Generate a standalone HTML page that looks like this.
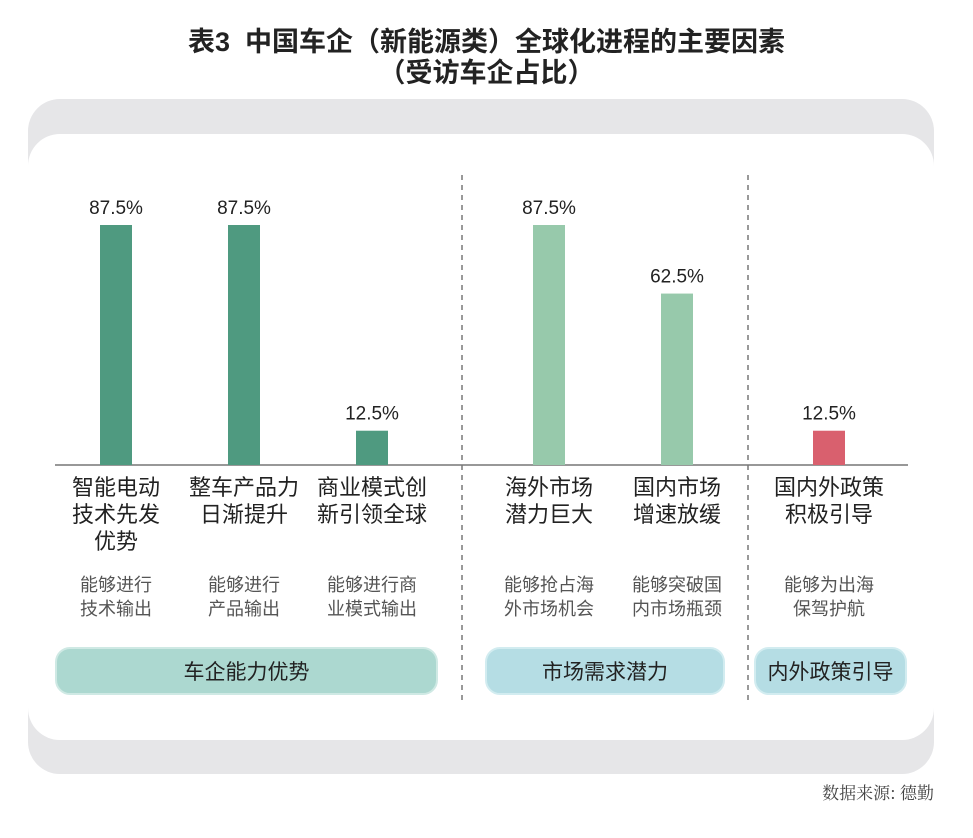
<!DOCTYPE html>
<html><head><meta charset="utf-8">
<style>
body{margin:0;width:973px;height:838px;background:#fff;font-family:"Liberation Sans","Noto Sans CJK SC",sans-serif;overflow:hidden;position:relative}
.t{position:absolute;white-space:nowrap}
</style></head>
<body>
<div class="t" style="left:0;width:973px;text-align:center;top:27px;font-size:27px;font-weight:bold;line-height:31px;color:#222">表3&nbsp; 中国车企（新能源类）全球化进程的主要因素<br>（受访车企占比）</div>
<svg id="c" width="973" height="838" style="position:absolute;left:0;top:0"></svg>
<script>
const categories=["智能电动|技术先发|优势","整车产品力|日渐提升","商业模式创|新引领全球","海外市场|潜力巨大","国内市场|增速放缓","国内外政策|积极引导"];
const values=[87.5,87.5,12.5,87.5,62.5,12.5];
const valueLabels=["87.5%","87.5%","12.5%","87.5%","62.5%","12.5%"];
const descriptions=["能够进行|技术输出","能够进行|产品输出","能够进行商|业模式输出","能够抢占海|外市场机会","能够突破国|内市场瓶颈","能够为出海|保驾护航"];
const groups=["车企能力优势","市场需求潜力","内外政策引导"];
const NS="http://www.w3.org/2000/svg";
const svg=document.getElementById('c');
function mk(t,a,p){const e=document.createElementNS(NS,t);for(const k in a)e.setAttribute(k,a[k]);(p||svg).appendChild(e);return e;}
const base=465, k=240/87.5;
const y=v=>base-v*k;
const xs=[116,244,372,549,677,829];
const colors=["#4f9a80","#4f9a80","#4f9a80","#97c9ab","#97c9ab","#d9606e"];
let e;
e=mk('rect',{x:28,y:99,width:906,height:675,rx:32,fill:'#e6e6e8'});


e=mk('rect',{x:28,y:134,width:906,height:606,rx:32,fill:'#fff'});


[462,748].forEach(x=>{e=mk('line',{x1:x,x2:x,y1:175,y2:700,stroke:'#333','stroke-width':1,'stroke-dasharray':'5,5'});

});
e=mk('line',{x1:55,x2:908,y1:base,y2:base,stroke:'#777','stroke-width':1.5});


values.forEach((v,i)=>{
  const b=mk('rect',{x:xs[i]-16,y:y(v),width:32,height:base-y(v),fill:colors[i]});
  
  
  const l=mk('text',{x:xs[i],y:y(v)-11,'text-anchor':'middle','font-size':19,fill:'#222'});
  l.textContent=valueLabels[i];
  
  
  categories[i].split('|').forEach((s,j)=>{
    const t=mk('text',{x:xs[i],y:495+j*27,'text-anchor':'middle','font-size':22,fill:'#222'});
    t.textContent=s;
    
    
  });
  descriptions[i].split('|').forEach((s,j)=>{
    const t=mk('text',{x:xs[i],y:591+j*24,'text-anchor':'middle','font-size':18,fill:'#555'});
    t.textContent=s;
    
    
  });
});
const gbox=[[56,381,'#acd8d0','#cfe9e4'],[486,238,'#b5dde4','#d2ecf0'],[755,151,'#b5dde4','#d2ecf0']];
groups.forEach((g,i)=>{
  const [x,w,f,s]=gbox[i];
  const r=mk('rect',{x:x,y:648,width:w,height:46,rx:14,fill:f,stroke:s,'stroke-width':2});
  
  
  const t=mk('text',{x:x+w/2,y:679,'text-anchor':'middle','font-size':21,fill:'#222'});
  t.textContent=g;
  
  
});
e=mk('text',{x:934,y:799,'text-anchor':'end','font-size':17,fill:'#444','font-family':'"Noto Serif CJK SC",serif'});
e.textContent='数据来源: 德勤';


</script>
</body></html>
